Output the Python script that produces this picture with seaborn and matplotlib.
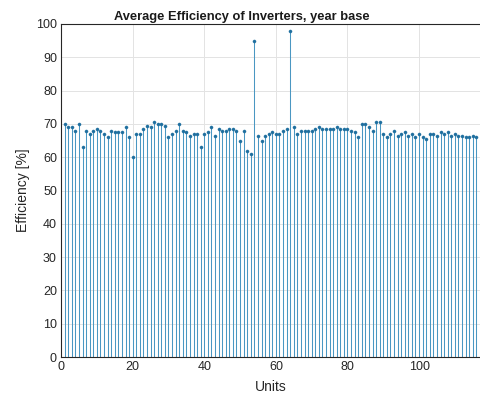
import numpy as np
import pandas as pd
import matplotlib
matplotlib.use("Agg")
import matplotlib.pyplot as plt
import seaborn as sns

# Average yearly efficiency per inverter unit (%)
efficiency = [
    70, 69, 69, 68, 70, 63, 68, 67, 68, 68.5,
    68, 67, 66, 68, 67.5, 67.5, 67.5, 69, 66, 60,
    67, 67, 68.5, 69.5, 69, 70.5, 70, 70, 69.5, 66,
    67, 68, 70, 68, 67.5, 66.5, 67, 67, 63, 67,
    67.5, 69, 66.5, 68.5, 68, 68, 68.5, 68.5, 68, 65,
    68, 62, 61, 95, 66.5, 65, 66.5, 67, 67.5, 67,
    67, 68, 68.5, 98, 69, 67, 68, 68, 68, 68,
    68.5, 69, 68.5, 68.5, 68.5, 68.5, 69, 68.5, 68.5, 68.5,
    68, 67.5, 66, 70, 70, 69, 68, 70.5, 70.5, 67,
    66, 67, 68, 66.5, 67, 67.5, 66.5, 67, 66, 67,
    66, 65.5, 67, 67, 66.5, 67.5, 67, 67.5, 66.5, 67,
    66.5, 66.5, 66, 66, 66.5, 66,
]
units = list(range(1, len(efficiency) + 1))
x_ticks = [0, 20, 40, 60, 80, 100]
y_ticks = list(range(0, 101, 10))

df = pd.DataFrame({"Units": units, "Efficiency": efficiency})

sns.set_style("whitegrid")
plt.rcParams["font.family"] = ["Liberation Sans", "DejaVu Sans"]

fig = plt.figure(figsize=(4.81, 3.99), dpi=100)
ax = fig.add_axes([0.127, 0.105, 0.873, 0.835])

stem_color = "#4a97c2"
ax.vlines(df["Units"], 0, df["Efficiency"], color=stem_color, linewidth=0.75)
sns.scatterplot(data=df, x="Units", y="Efficiency", ax=ax, color="#1f6f9f",
                s=5, edgecolor="#1f6f9f", linewidth=0.3, zorder=3)

ax.set_xlim(0, 117.3)
ax.set_ylim(0, 100)
ax.set_xticks(x_ticks)
ax.set_yticks(y_ticks)
ax.tick_params(labelsize=9, colors="#262626", length=0, pad=3)
ax.grid(True, color="#e3e3e3", linewidth=0.7)

for side in ["left", "bottom", "top"]:
    ax.spines[side].set_visible(True)
    ax.spines[side].set_color("#262626")
    ax.spines[side].set_linewidth(0.8)
ax.spines["right"].set_visible(False)

ax.set_xlabel("Units", fontsize=10, color="#262626", labelpad=5)
ax.set_ylabel("Efficiency [%]", fontsize=10, color="#262626", labelpad=4)
ax.set_title("Average Efficiency of Inverters, year base", fontsize=9.3,
             fontweight="bold", color="#1a1a1a", pad=3, x=0.43)

fig.savefig("out.png", dpi=100)
